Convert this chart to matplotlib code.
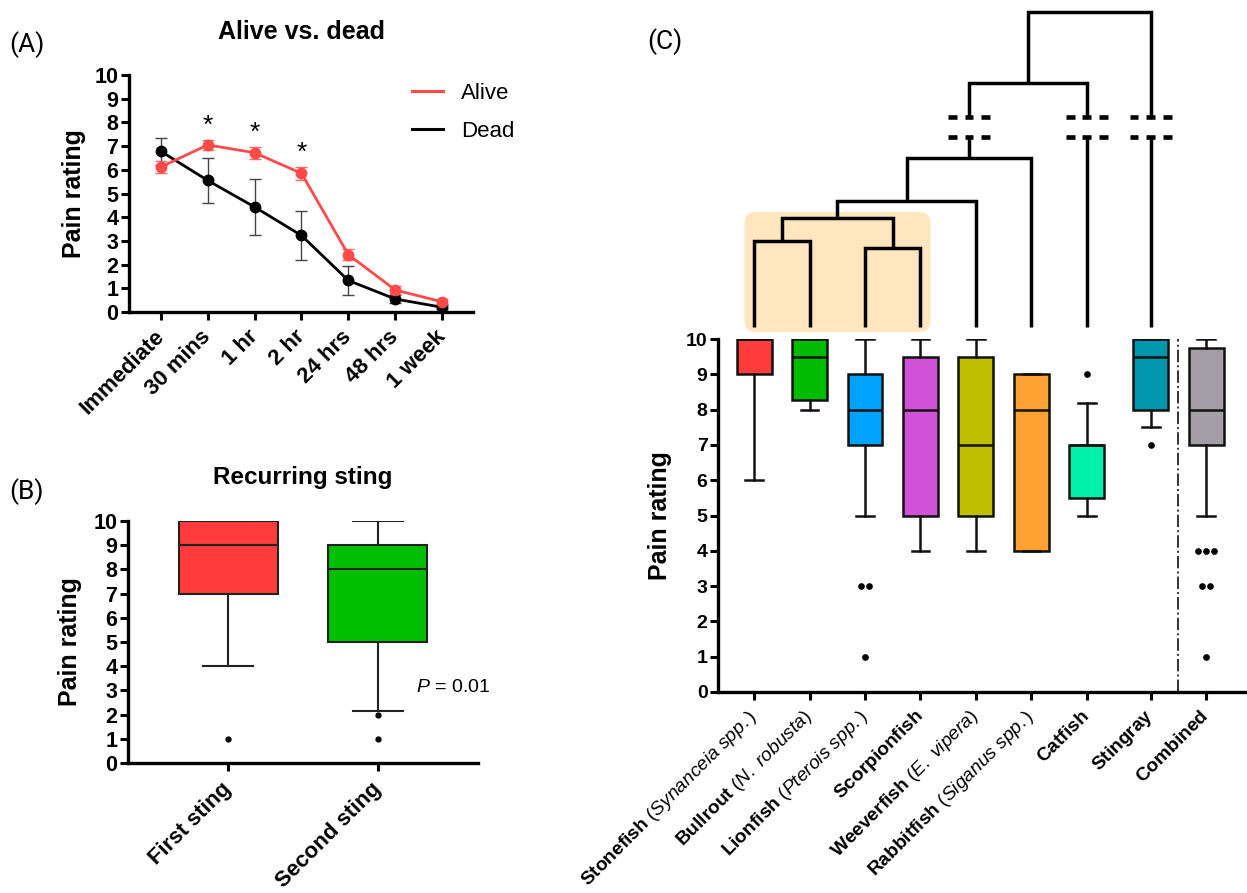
import matplotlib
matplotlib.use('Agg')
import matplotlib.pyplot as plt
import numpy as np
from matplotlib.patches import FancyBboxPatch
from matplotlib.lines import Line2D

plt.rcParams['font.family'] = ['Liberation Sans', 'DejaVu Sans']
plt.rcParams['mathtext.fontset'] = 'custom'
plt.rcParams['mathtext.rm'] = 'Liberation Sans'
plt.rcParams['mathtext.bf'] = 'Liberation Sans:bold'
plt.rcParams['mathtext.it'] = 'Liberation Sans:italic'

# ---------------- data ----------------
time_labels = ['Immediate', '30 mins', '1 hr', '2 hr', '24 hrs', '48 hrs', '1 week']
alive_mean = [6.12, 7.05, 6.72, 5.85, 2.42, 0.93, 0.43]
alive_err = [0.25, 0.22, 0.25, 0.28, 0.22, 0.15, 0.10]
dead_mean = [6.78, 5.55, 4.43, 3.23, 1.33, 0.55, 0.20]
dead_err = [0.57, 0.95, 1.17, 1.02, 0.63, 0.15, 0.08]
signif_idx = [1, 2, 3]

sting_labels = ['First sting', 'Second sting']
sting_q1 = [7, 5]
sting_med = [9, 8]
sting_q3 = [10, 9]
sting_lo = [4, 2.15]
sting_hi = [10, 10]
sting_out = [[1], [2, 1]]
sting_colors = ['#FF3B3B', '#00BF00']

species_bold = ['Stonefish', 'Bullrout', 'Lionfish', 'Scorpionfish', 'Weeverfish',
                'Rabbitfish', 'Catfish', 'Stingray', 'Combined']
species_sci = ['Synanceia spp.', 'N. robusta', 'Pterois spp.', '', 'E. vipera',
               'Siganus spp.', '', '', '']
c_q1 = [9, 8.27, 7, 5, 5, 4, 5.5, 8, 7]
c_med = [10, 9.5, 8, 8, 7, 8, 7, 9.5, 8]
c_q3 = [10, 10, 9, 9.5, 9.5, 9, 7, 10, 9.75]
c_lo = [6, 8, 5, 4, 4, 4, 5, 7.5, 5]
c_hi = [10, 10, 10, 10, 10, 9, 8.2, 10, 10]
c_out = [[], [], [3, 3, 1], [], [], [], [9], [7], [4, 4, 4, 3, 3, 1]]
c_colors = ['#FF3B3B', '#00BB00', '#00A2FF', '#D152D9', '#BFBF00',
            '#FFA033', '#00EFAA', '#0096AC', '#A39EA6']
c_pos = [0, 1, 2, 3, 4, 5, 6, 7.15, 8.15]

# dendrogram merges: (child_a, child_b, height); leaves 0..7
dendro_merges = [(0, 1, 86), (2, 3, 79), (8, 9, 109), (10, 4, 126),
                 (11, 5, 169), (12, 6, 244), (13, 7, 315)]
break_band = (190, 210)

# ---------------- figure ----------------
W, H = 1247, 893
fig = plt.figure(figsize=(W / 100, H / 100), dpi=100)


def px_axes(l, t, r, b):
    return fig.add_axes([l / W, 1 - b / H, (r - l) / W, (b - t) / H])


def style_axes(ax, ysize):
    for s in ['top', 'right']:
        ax.spines[s].set_visible(False)
    for s in ['left', 'bottom']:
        ax.spines[s].set_linewidth(2.4)
    ax.tick_params(axis='both', width=2.2, length=5.5, direction='out')
    ax.set_ylim(0, 10)
    ax.set_yticks(range(11))
    ax.set_yticklabels([str(i) for i in range(11)], fontweight='bold', fontsize=ysize)
    ax.tick_params(axis='y', pad=2)


# ---------------- panel A ----------------
axA = px_axes(129, 75, 473, 312)
style_axes(axA, 15.5)
xa = np.arange(len(time_labels))
axA.errorbar(xa, alive_mean, yerr=alive_err, color='#FF4A4A', lw=2.0, marker='o',
             ms=7.5, capsize=4, elinewidth=1.0, ecolor='#FF6A6A', label='Alive',
             clip_on=False, zorder=4)
axA.errorbar(xa, dead_mean, yerr=dead_err, color='black', lw=2.0, marker='o',
             ms=7.5, capsize=4, elinewidth=1.0, ecolor='#444444', label='Dead',
             clip_on=False, zorder=3)
for i in signif_idx:
    axA.text(xa[i], alive_mean[i] + alive_err[i] + 0.6, '*', ha='center', va='center',
             fontsize=19)
axA.set_xlim(-0.68, 6.66)
axA.set_xticks(xa)
axA.set_xticklabels(time_labels, rotation=45, ha='right', va='center',
                    rotation_mode='anchor', fontweight='bold', fontsize=16)
axA.tick_params(axis='x', pad=10)
axA.set_ylabel('Pain rating', fontweight='bold', fontsize=18, labelpad=6)
axA.set_title('Alive vs. dead', fontweight='bold', fontsize=18, pad=26)
hA = [Line2D([], [], color='#FF4A4A', lw=2.2), Line2D([], [], color='black', lw=2.2)]
axA.legend(hA, ['Alive', 'Dead'], frameon=False, loc='upper left',
           bbox_to_anchor=(0.765, 1.05), fontsize=16, handlelength=1.4,
           handletextpad=0.8, labelspacing=0.75)

# ---------------- panel B ----------------
axB = px_axes(128, 521, 478, 763)
style_axes(axB, 15.5)
statsB = []
for i in range(len(sting_labels)):
    statsB.append(dict(q1=sting_q1[i], med=sting_med[i], q3=sting_q3[i],
                       whislo=sting_lo[i], whishi=sting_hi[i], fliers=[],
                       label=sting_labels[i]))
bpB = axB.bxp(statsB, positions=[0, 1], widths=0.66, patch_artist=True,
              showfliers=False, capwidths=0.33,
              boxprops=dict(lw=1.5, edgecolor='#222222'),
              medianprops=dict(color='#222222', lw=1.5),
              whiskerprops=dict(color='#222222', lw=1.5),
              capprops=dict(color='#222222', lw=1.5))
for patch, col in zip(bpB['boxes'], sting_colors):
    patch.set_facecolor(col)
for i, outs in enumerate(sting_out):
    axB.plot([i] * len(outs), outs, 'o', color='black', ms=3.5, zorder=5)
axB.set_xlim(-0.667, 1.667)
axB.set_xticks([0, 1])
axB.set_xticklabels(sting_labels, rotation=45, ha='right', va='center',
                    rotation_mode='anchor', fontweight='bold', fontsize=16)
axB.tick_params(axis='x', pad=11)
axB.set_ylabel('Pain rating', fontweight='bold', fontsize=18, labelpad=8)
axB.set_title('Recurring sting', fontweight='bold', fontsize=17.5, pad=27)
axB.text(1.5, 3.1, r'$\mathit{P}$ = 0.01', fontsize=14, ha='center', va='center')

# ---------------- panel C ----------------
axC = px_axes(718, 339, 1245, 692)
style_axes(axC, 14)
statsC = []
for i in range(len(species_bold)):
    statsC.append(dict(q1=c_q1[i], med=c_med[i], q3=c_q3[i], whislo=c_lo[i],
                       whishi=c_hi[i], fliers=[]))
bpC = axC.bxp(statsC, positions=c_pos, widths=0.63, patch_artist=True,
              showfliers=False, capwidths=0.32,
              boxprops=dict(lw=1.8, edgecolor='#111111'),
              medianprops=dict(color='#111111', lw=1.8),
              whiskerprops=dict(color='#111111', lw=1.8),
              capprops=dict(color='#111111', lw=1.8))
for patch, col in zip(bpC['boxes'], c_colors):
    patch.set_facecolor(col)
for i, outs in enumerate(c_out):
    vals, counts = np.unique(outs, return_counts=True) if outs else ([], [])
    for v, n in zip(vals, counts):
        offs = (np.arange(n) - (n - 1) / 2) * 0.14
        axC.plot(c_pos[i] + offs, [v] * n, 'o', color='black', ms=3.8, zorder=5)
sep_x = (c_pos[7] + c_pos[8]) / 2
axC.vlines(sep_x, 0, 10, colors='#333333', linestyles='-.', lw=1.4)
axC.set_xlim(-0.65, 8.85)
axC.set_xticks(c_pos)
labsC = []
for b, s in zip(species_bold, species_sci):
    if s:
        labsC.append(r'$\mathbf{%s}$ $\mathit{(%s)}$' % (b, s.replace(' ', r'\ ')))
    else:
        labsC.append(r'$\mathbf{%s}$' % b)
axC.set_xticklabels(labsC, rotation=45, ha='right', va='center',
                    rotation_mode='anchor', fontsize=13.8)
axC.tick_params(axis='x', pad=10)
axC.set_ylabel('Pain rating', fontweight='bold', fontsize=18, labelpad=10)

# ---------------- dendrogram ----------------
axD = px_axes(718, 12, 1245, 327)
axD.set_xlim(axC.get_xlim())
axD.set_ylim(0, 315)
axD.axis('off')
node_x = {i: c_pos[i] for i in range(8)}
node_h = {i: 0 for i in range(8)}
lw_d = 2.5
for k, (a, b, h) in enumerate(dendro_merges):
    nid = 8 + k
    pts_top = []
    for c in (a, b):
        ch = node_h[c]
        if ch < break_band[0] and h > break_band[1]:
            axD.plot([node_x[c], node_x[c]], [ch, break_band[0]], color='black',
                     lw=lw_d, clip_on=False, solid_capstyle='butt')
            for yb in break_band:
                for dx in (-0.3, 0, 0.3):
                    axD.plot([node_x[c] + dx - 0.08, node_x[c] + dx + 0.08], [yb, yb],
                             color='black', lw=lw_d + 0.8, clip_on=False,
                             solid_capstyle='butt')
            pts_top.append((node_x[c], break_band[1]))
        else:
            pts_top.append((node_x[c], ch))
    xs = [pts_top[0][0], pts_top[0][0], pts_top[1][0], pts_top[1][0]]
    ys = [pts_top[0][1], h, h, pts_top[1][1]]
    axD.plot(xs, ys, color='black', lw=lw_d, clip_on=False,
             solid_joinstyle='miter', solid_capstyle='butt', zorder=3)
    node_x[nid] = (node_x[a] + node_x[b]) / 2
    node_h[nid] = h

box = FancyBboxPatch((-0.17, -5), 3.35, 120,
                     boxstyle='round,pad=0,rounding_size=0.2',
                     mutation_aspect=55.5, facecolor='#FFE6BF', edgecolor='none',
                     clip_on=False, zorder=1)
axD.add_patch(box)

# panel letters
fig.text(9 / W, 1 - 45 / H, '(A)', fontsize=19, family='Roboto', va='center')
fig.text(9 / W, 1 - 492 / H, '(B)', fontsize=19, family='Roboto', va='center')
fig.text(647 / W, 1 - 42 / H, '(C)', fontsize=19, family='Roboto', va='center')

fig.savefig('out.png', dpi=100)
